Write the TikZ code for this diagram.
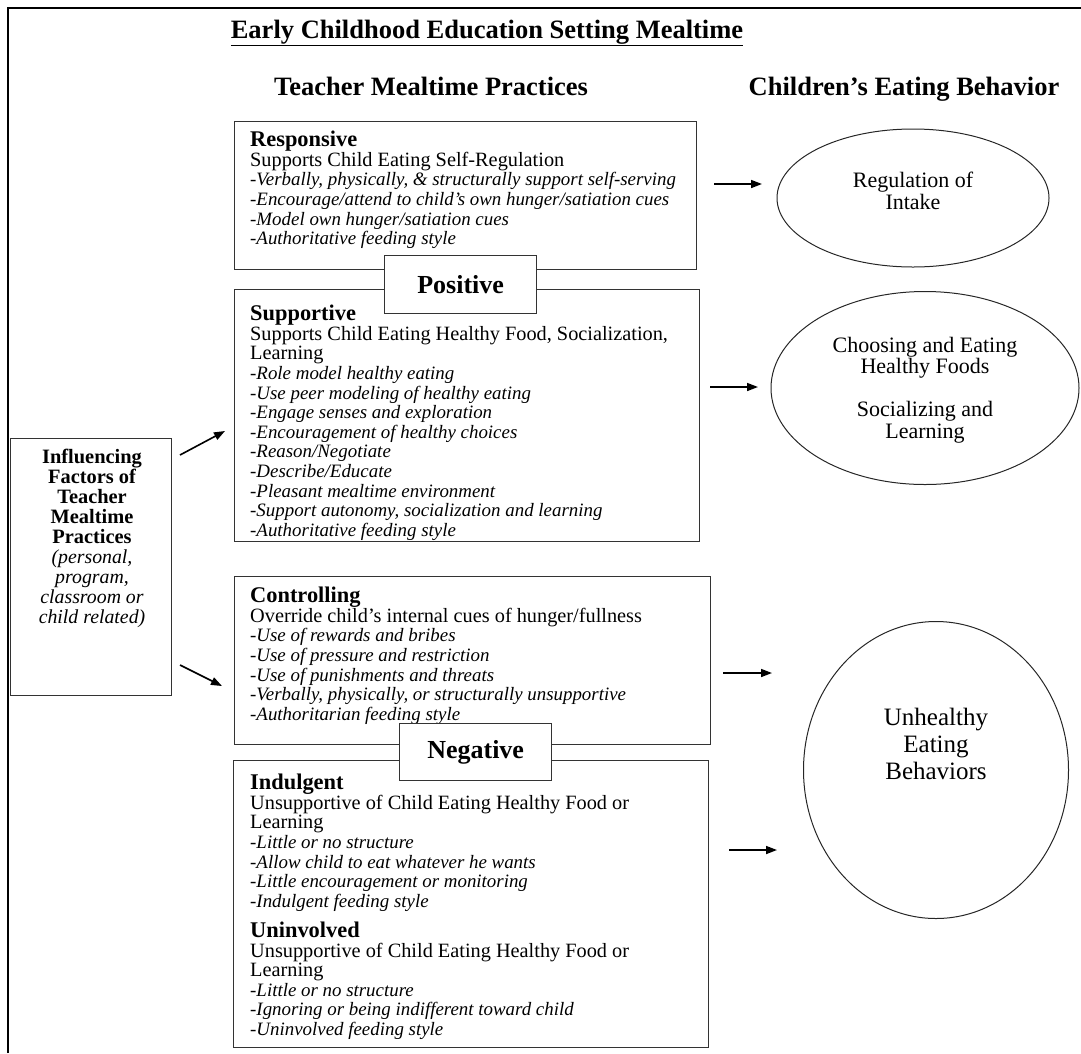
\documentclass[tikz,border=0pt]{standalone}
\usepackage{fontspec}
\setmainfont{Liberation Serif}
\usetikzlibrary{arrows.meta,shapes.geometric}
\newcommand{\boxhd}[1]{{\bfseries\fontsize{22.4}{19.6}\selectfont #1}}
\newcommand{\itl}[1]{{\itshape\fontsize{18.9}{19.6}\selectfont #1}}
\begin{document}
\begin{tikzpicture}[x=1pt,y=-1pt,
  box/.style={draw=black!80, line width=1.3pt, fill=white, inner sep=0pt, anchor=north west},
  txt/.style={anchor=north west, inner sep=0pt, align=left, font=\fontsize{20.3}{19.6}\selectfont},
  tag/.style={draw=black!80, line width=1.3pt, fill=white, inner sep=0pt, anchor=north west, font=\bfseries\fontsize{26}{26}\selectfont},
  oval/.style={draw=black!85, line width=1pt, ellipse, inner sep=0pt},
  head/.style={font=\bfseries\fontsize{26.5}{26.5}\selectfont, inner sep=0pt, anchor=base},
  otxt/.style={align=center, inner sep=0pt},
  arr/.style={line width=1.6pt, -{Triangle[length=11pt,width=8pt]}}]
\useasboundingbox (0,0) rectangle (1081,1053);
% frame
\draw[line width=2.2pt] (8,1053) -- (8,8) -- (1081,8);
% headers
\node[head] (title) at (487,38) {\underline{Early Childhood Education Setting Mealtime}};
\node[head] (hteach) at (431,95) {Teacher Mealtime Practices};
\node[head] (hchild) at (904,95) {Children’s Eating Behavior};
% boxes
\node[box, minimum width=462pt, minimum height=148pt] (resp) at (234,121) {};
\node[txt] (resptxt) at (250,131) {\boxhd{Responsive}\\
Supports Child Eating Self-Regulation\\
\itl{-Verbally, physically, \& structurally support self-serving}\\
\itl{-Encourage/attend to child’s own hunger/satiation cues}\\
\itl{-Model own hunger/satiation cues}\\
\itl{-Authoritative feeding style}};
\node[box, minimum width=465pt, minimum height=252pt] (supp) at (234,289) {};
\node[txt] (supptxt) at (250,305) {\boxhd{Supportive}\\
Supports Child Eating Healthy Food, Socialization,\\
Learning\\
\itl{-Role model healthy eating}\\
\itl{-Use peer modeling of healthy eating}\\
\itl{-Engage senses and exploration}\\
\itl{-Encouragement of healthy choices}\\
\itl{-Reason/Negotiate}\\
\itl{-Describe/Educate}\\
\itl{-Pleasant mealtime environment}\\
\itl{-Support autonomy, socialization and learning}\\
\itl{-Authoritative feeding style}};
\node[tag, minimum width=152pt, minimum height=58pt] (pos) at (384,255) {};
\node[font=\bfseries\fontsize{26}{26}\selectfont, inner sep=0pt] (postxt) at (pos.center) {Positive};

\node[box, minimum width=476pt, minimum height=168pt] (ctrl) at (234,576) {};
\node[txt] (ctrltxt) at (250,587) {\boxhd{Controlling}\\
Override child’s internal cues of hunger/fullness\\
\itl{-Use of rewards and bribes}\\
\itl{-Use of pressure and restriction}\\
\itl{-Use of punishments and threats}\\
\itl{-Verbally, physically, or structurally unsupportive}\\
\itl{-Authoritarian feeding style}};
\node[box, minimum width=475pt, minimum height=287pt] (indu) at (233,760) {};
\node[txt] (indutxt) at (250,774) {\boxhd{Indulgent}\\
Unsupportive of Child Eating Healthy Food or\\
Learning\\
\itl{-Little or no structure}\\
\itl{-Allow child to eat whatever he wants}\\
\itl{-Little encouragement or monitoring}\\
\itl{-Indulgent feeding style}\\[9.5pt]
\boxhd{Uninvolved}\\
Unsupportive of Child Eating Healthy Food or\\
Learning\\
\itl{-Little or no structure}\\
\itl{-Ignoring or being indifferent toward child}\\
\itl{-Uninvolved feeding style}};
\node[tag, minimum width=152pt, minimum height=57pt] (neg) at (399,723) {};
\node[font=\bfseries\fontsize{26}{26}\selectfont, inner sep=0pt] (negtxt) at (neg.center) {Negative};

% influencing factors
\node[box, minimum width=161pt, minimum height=257pt] (infl) at (10,438) {};
\node[anchor=north, inner sep=0pt, align=center, font=\bfseries\fontsize{20.4}{20}\selectfont] (infltxt) at (92,449) {Influencing\\ Factors of\\ Teacher\\ Mealtime\\ Practices\\
{\mdseries\itshape\fontsize{19.8}{20}\selectfont (personal,}\\
{\mdseries\itshape\fontsize{19.8}{20}\selectfont program,}\\
{\mdseries\itshape\fontsize{19.8}{20}\selectfont classroom or}\\
{\mdseries\itshape\fontsize{19.8}{20}\selectfont child related)}};

% outcomes
\node[oval, minimum width=272pt, minimum height=138pt] (e1) at (913,198) {};
\node[otxt, font=\fontsize{22}{22}\selectfont] (e1txt) at (913,191) {Regulation of\\ Intake};
\node[oval, minimum width=308pt, minimum height=193pt] (e2) at (925,388) {};
\node[otxt, font=\fontsize{22}{21.5}\selectfont] (e2txt) at (925,390) {Choosing and Eating\\ Healthy Foods\\[21.5pt] Socializing and\\ Learning};
\node[oval, minimum width=265pt, minimum height=297pt] (e3) at (936,770) {};
\node[otxt, font=\fontsize{25}{27}\selectfont] (e3txt) at (936,744) {Unhealthy\\ Eating\\ Behaviors};

% arrows
\coordinate (a1s) at (714,184); \coordinate (a1e) at (762,184);
\coordinate (a2s) at (710,387); \coordinate (a2e) at (758,387);
\coordinate (a3s) at (723,673); \coordinate (a3e) at (772,673);
\coordinate (a4s) at (729,850); \coordinate (a4e) at (777,850);
\coordinate (a5s) at (180,455); \coordinate (a5e) at (225,431);
\coordinate (a6s) at (180,665); \coordinate (a6e) at (222,686);
\draw[arr] (a1s) -- (a1e);
\draw[arr] (a2s) -- (a2e);
\draw[arr] (a3s) -- (a3e);
\draw[arr] (a4s) -- (a4e);
\draw[arr] (a5s) -- (a5e);
\draw[arr] (a6s) -- (a6e);
\end{tikzpicture}
\end{document}
